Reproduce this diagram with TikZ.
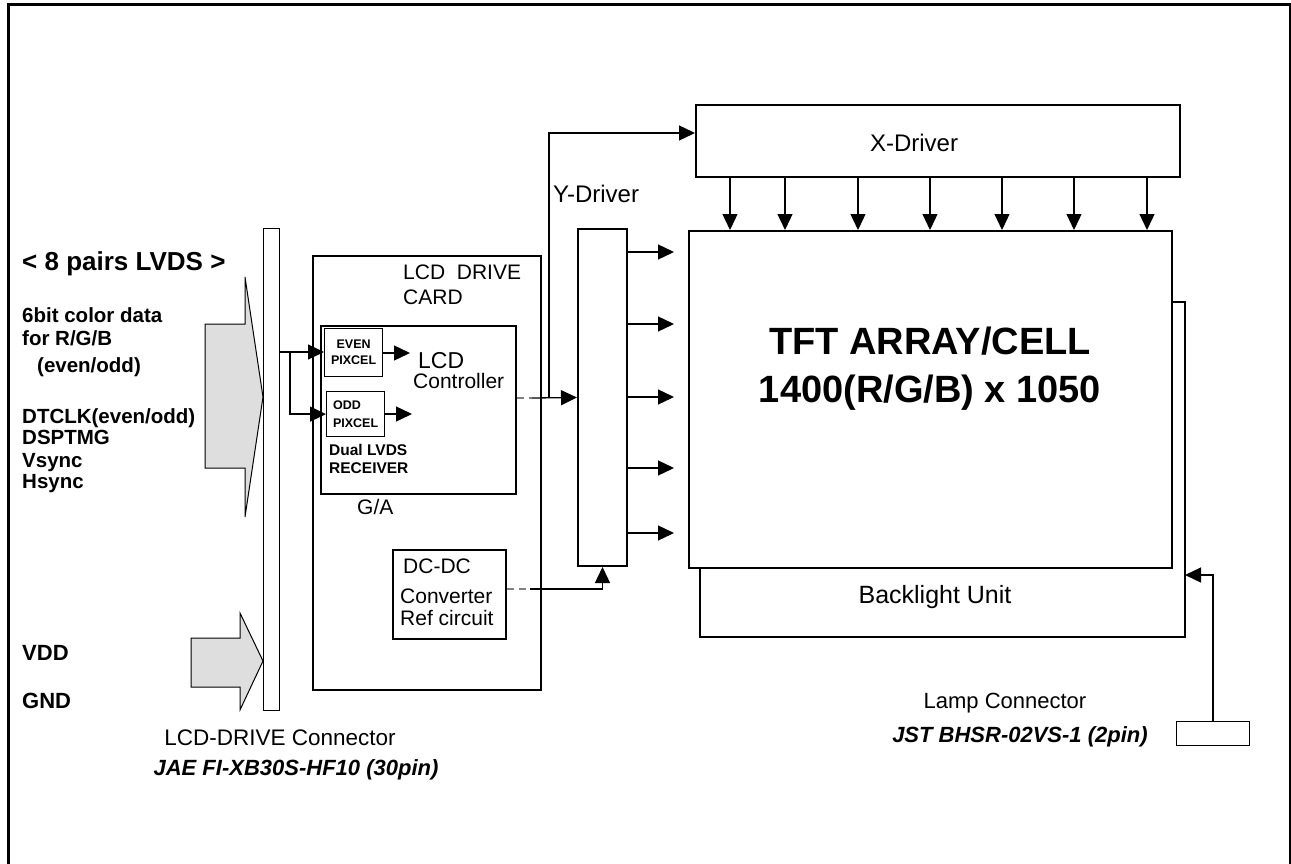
\documentclass[tikz,border=0pt]{standalone}
\usepackage{fontspec}
\setmainfont{Liberation Sans}
\usetikzlibrary{arrows.meta,positioning}

\begin{document}
\begin{tikzpicture}[x=1pt,y=-1pt,
blk/.style={draw,line width=2pt,anchor=north west,inner sep=0pt},
thinbox/.style={draw,line width=1.2pt,anchor=north west,inner sep=0pt},
wire/.style={line width=1.3pt},
arr/.style={line width=1.3pt,-{Triangle[length=16pt,width=15pt]}},
dsh/.style={line width=1.3pt,gray,dash pattern=on 7pt off 5pt},
fat/.style={fill=black!13,draw,line width=1pt},
lbl/.style={font=\fontsize{21}{24}\selectfont,inner sep=0pt},
lblbig/.style={font=\fontsize{24}{27}\selectfont,inner sep=0pt},
sig/.style={font=\bfseries\fontsize{20.5}{24}\selectfont,inner sep=0pt,anchor=base west},
tiny/.style={font=\bfseries\fontsize{12.5}{16}\selectfont,inner sep=0pt},
part/.style={font=\bfseries\itshape\fontsize{22}{26}\selectfont,inner sep=0pt}]
\useasboundingbox (0,0) rectangle (1291,864);
\draw[line width=3pt] (8,864) -- (8,5) -- (1290,5) -- (1290,864);

% input side
\node[sig,font=\bfseries\fontsize{26}{30}\selectfont] (lvds) at (22,270) {< 8 pairs LVDS >};
\node[sig] (s1) at (22,322) {6bit color data};
\node[sig] (s2) at (22,345) {for R/G/B};
\node[sig] (s3) at (37,372) {(even/odd)};
\node[sig] (s4) at (22,423) {DTCLK(even/odd)};
\node[sig] (s5) at (22,444) {DSPTMG};
\node[sig] (s6) at (22,467) {Vsync};
\node[sig] (s7) at (22,488) {Hsync};
\node[sig,font=\bfseries\fontsize{22}{26}\selectfont] (vdd) at (22,660) {VDD};
\node[sig,font=\bfseries\fontsize{22}{26}\selectfont] (gnd) at (22,708) {GND};
\draw[fat] (205,324) -- (245,324) -- (245,277) -- (263,397) -- (245,517) -- (245,468) -- (205,468) -- cycle;
\draw[fat] (191,638) -- (240,638) -- (240,613) -- (263,661) -- (240,710) -- (240,687) -- (191,687) -- cycle;
\node[thinbox,fill=white,minimum width=16pt,minimum height=482pt] (conn) at (263,228) {};
\node[lbl,font=\fontsize{22.5}{26}\selectfont] (connlbl) at (280,738) {LCD-DRIVE Connector};
\node[part] (connpart) at (296,770) {JAE FI-XB30S-HF10 (30pin)};

% drive card
\node[blk,minimum width=228pt,minimum height=434pt] (card) at (312,255) {};
\node[lbl,anchor=base west,align=left,font=\fontsize{21}{25}\selectfont] (cardlbl) at (403,304) {LCD\ \ DRIVE\\CARD};
\node[blk,minimum width=195pt,minimum height=168pt] (ga) at (320,325) {};
\node[lbl,anchor=base west] (galbl) at (357,514) {G/A};
\node[thinbox,minimum width=58pt,minimum height=48pt,align=center,tiny] (even) at (324,328) {EVEN\\PIXCEL};
\node[thinbox,minimum width=58pt,minimum height=45pt,align=left,tiny] (odd) at (326,391) {ODD\\[2pt]PIXCEL};
\node[lbl,anchor=base west,font=\fontsize{23}{26}\selectfont] (lcdlbl) at (418,368) {LCD};
\node[lbl,anchor=base west] (ctllbl) at (413,388) {Controller};
\node[tiny,anchor=base west,align=left,font=\bfseries\fontsize{15.5}{17.5}\selectfont] (rxlbl) at (329,473) {Dual LVDS\\RECEIVER};
\node[blk,minimum width=113pt,minimum height=89pt] (dcdc) at (392,549) {};
\node[lbl,anchor=base west] (dclbl) at (403,573) {DC-DC};
\node[lbl,anchor=base west,align=left,font=\fontsize{21}{22}\selectfont] (cvlbl) at (400,625) {Converter\\Ref circuit};

% drivers and panel
\node[blk,minimum width=484pt,minimum height=72pt] (xdrv) at (695,104) {};
\node[lblbig] (xlbl) at (914,143) {X-Driver};
\node[blk,minimum width=49pt,minimum height=337pt] (ydrv) at (577,228) {};
\node[lblbig,anchor=base west] (ylbl) at (553,203) {Y-Driver};
\node[blk,minimum width=483pt,minimum height=337pt] (tft) at (688,230) {};
\node[font=\bfseries\fontsize{38}{48}\selectfont,align=center,inner sep=0pt] (tftlbl) at (930,369) {TFT ARRAY/CELL\\1400(R/G/B) x 1050};
\node[lblbig,font=\fontsize{25}{28}\selectfont] (bllbl) at (935,597) {Backlight Unit};
\node[thinbox,minimum width=73pt,minimum height=24pt] (lamp) at (1176,721) {};
\node[lbl,font=\fontsize{22}{26}\selectfont] (lamplbl) at (1005,703) {Lamp Connector};
\node[part] (lamppart) at (1020,737) {JST BHSR-02VS-1 (2pin)};

% signal paths
\coordinate (split) at (290,352);
\coordinate (evout) at (410,353);
\coordinate (odout) at (412,414);
\coordinate (ctlend) at (532,398);
\coordinate (up) at (549,398);
\coordinate (dcend) at (530,589);
\coordinate (blin) at (1185,575);
\draw[arr] (conn.east |- split) -- (even.west |- split);
\draw[arr] (split) |- (odd.west);
\draw[arr] (even.east |- evout) -- (evout);
\draw[arr] (odd.east |- odout) -- (odout);
\draw[dsh] (ga.east |- ctlend) -- (ctlend);
\draw[arr] (ctlend) -- (ydrv.west);
\draw[arr] (up) -- (549,133) -- (xdrv.west |- 0,133);
\draw[dsh] (dcdc.east |- dcend) -- (dcend);
\draw[arr] (dcend) -| (ydrv.south);
\foreach \x in {730,785,858,930,1002,1074,1147}
  \draw[arr] (\x,0 |- xdrv.south) -- (\x,0 |- tft.north);
\foreach \y in {252,324,397,468,533}
  \draw[arr] (ydrv.east |- 0,\y) -- ([xshift=-14pt]tft.west |- 0,\y);
\draw[wire] (tft.east |- 0,302) -- (1185,302) -- (1185,637) -- (700,637) -- (700,0 |- tft.south);
\draw[arr] (lamp.north) |- (blin);
\end{tikzpicture}
\end{document}
